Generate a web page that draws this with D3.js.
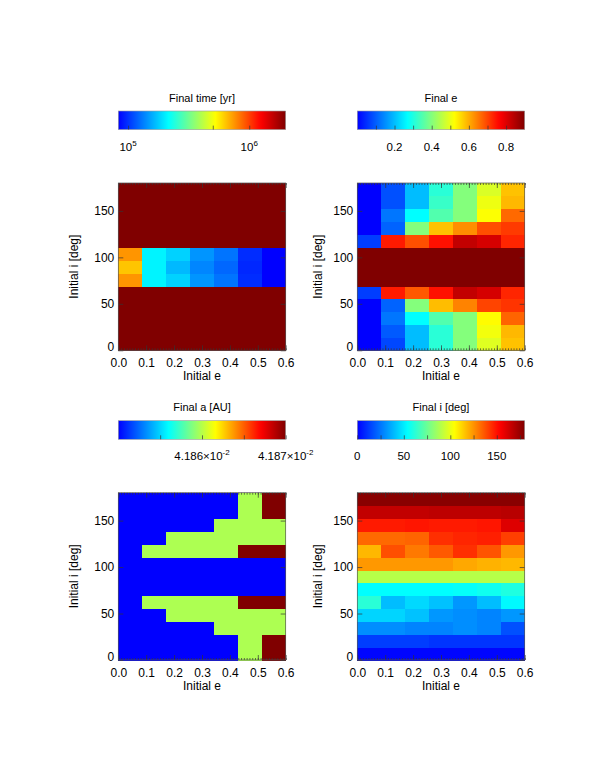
<!DOCTYPE html>
<html>
<head>
<meta charset="utf-8">
<script src="https://d3js.org/d3.v7.min.js"></script>
<style>
body { margin: 0; background: #fff; }
text { font-family: "Liberation Sans", Arial, Helvetica, sans-serif; fill: #000; }
</style>
</head>
<body>
<script>
///////////////////////////////////////////////////////////////////////////////
// Data (grid rows go from initial i = 0 at the bottom up to 180 at the top)

var initialE = [0.0, 0.1, 0.2, 0.3, 0.4, 0.5, 0.6];
var initialI = [0, 15, 30, 45, 60, 75, 90, 105, 120, 135, 150, 165, 180];

var finalTime = [
  [2e6, 2e6, 2e6, 2e6, 2e6, 2e6, 2e6],
  [2e6, 2e6, 2e6, 2e6, 2e6, 2e6, 2e6],
  [2e6, 2e6, 2e6, 2e6, 2e6, 2e6, 2e6],
  [2e6, 2e6, 2e6, 2e6, 2e6, 2e6, 2e6],
  [2e6, 2e6, 2e6, 2e6, 2e6, 2e6, 2e6],
  [7.5e5, 2.07e5, 1.82e5, 1.45e5, 1.28e5, 9.8e4, 8.3e4],
  [6.4e5, 2.07e5, 1.66e5, 1.37e5, 1.22e5, 9.6e4, 8.3e4],
  [7.5e5, 2.07e5, 1.82e5, 1.45e5, 1.28e5, 9.8e4, 8.3e4],
  [2e6, 2e6, 2e6, 2e6, 2e6, 2e6, 2e6],
  [2e6, 2e6, 2e6, 2e6, 2e6, 2e6, 2e6],
  [2e6, 2e6, 2e6, 2e6, 2e6, 2e6, 2e6],
  [2e6, 2e6, 2e6, 2e6, 2e6, 2e6, 2e6],
  [2e6, 2e6, 2e6, 2e6, 2e6, 2e6, 2e6]
];

var finalE = [
  [0.0, 0.075, 0.2, 0.31, 0.4, 0.49, 0.58],
  [0.0, 0.095, 0.2, 0.31, 0.4, 0.51, 0.59],
  [0.0, 0.125, 0.27, 0.35, 0.4, 0.525, 0.67],
  [0.0, 0.105, 0.4, 0.585, 0.64, 0.70, 0.715],
  [0.065, 0.74, 0.68, 0.75, 0.83, 0.81, 0.73],
  [0.9, 0.9, 0.9, 0.9, 0.9, 0.9, 0.9],
  [0.9, 0.9, 0.9, 0.9, 0.9, 0.9, 0.9],
  [0.9, 0.9, 0.9, 0.9, 0.9, 0.9, 0.9],
  [0.065, 0.74, 0.69, 0.75, 0.83, 0.81, 0.73],
  [0.0, 0.105, 0.4, 0.58, 0.63, 0.69, 0.71],
  [0.0, 0.125, 0.27, 0.35, 0.4, 0.52, 0.665],
  [0.0, 0.085, 0.2, 0.325, 0.4, 0.505, 0.59],
  [0.0, 0.085, 0.2, 0.31, 0.4, 0.485, 0.58]
];

var finalA = [
  [0.04185, 0.04185, 0.04185, 0.04185, 0.04185, 0.0418598, 0.04187],
  [0.04185, 0.04185, 0.04185, 0.04185, 0.04185, 0.0418598, 0.04187],
  [0.04185, 0.04185, 0.04185, 0.04185, 0.0418598, 0.0418598, 0.0418598],
  [0.04185, 0.04185, 0.0418598, 0.0418598, 0.0418598, 0.0418598, 0.0418598],
  [0.04185, 0.0418598, 0.0418598, 0.0418598, 0.0418598, 0.04187, 0.04187],
  [0.04185, 0.04185, 0.04185, 0.04185, 0.04185, 0.04185, 0.04185],
  [0.04185, 0.04185, 0.04185, 0.04185, 0.04185, 0.04185, 0.04185],
  [0.04185, 0.04185, 0.04185, 0.04185, 0.04185, 0.04185, 0.04185],
  [0.04185, 0.0418598, 0.0418598, 0.0418598, 0.0418598, 0.04187, 0.04187],
  [0.04185, 0.04185, 0.0418598, 0.0418598, 0.0418598, 0.0418598, 0.0418598],
  [0.04185, 0.04185, 0.04185, 0.04185, 0.0418598, 0.0418598, 0.0418598],
  [0.04185, 0.04185, 0.04185, 0.04185, 0.04185, 0.0418598, 0.04187],
  [0.04185, 0.04185, 0.04185, 0.04185, 0.04185, 0.0418598, 0.04187]
];

var finalI = [
  [1, 1, 1, 1, 1, 1, 1],
  [13, 13, 13, 11, 11, 11, 11],
  [30, 30, 28, 28, 30, 28, 17],
  [45, 45, 41, 32, 30, 28, 32],
  [62, 40, 46, 41, 32, 40, 53],
  [54, 54, 54, 54, 55, 57, 60],
  [90, 90, 90, 90, 90, 90, 90],
  [124, 124, 124, 124, 121, 119, 118],
  [118, 138, 130, 136, 144, 137, 124],
  [133, 133, 134, 144, 146, 147, 141],
  [148, 148, 149, 148, 148, 149, 160],
  [166, 166, 166, 167, 167, 167, 168],
  [178, 178, 178, 178, 178, 178, 178]
];

// axis ticks
var eTicks = [0.0, 0.1, 0.2, 0.3, 0.4, 0.5, 0.6];
var iTicks = [0, 50, 100, 150];

// colorbar ticks ("^" starts a superscript)
var timeTicks = [1e5, 5e5, 1e6];
var timeTickLabels = ["10^5", "", "10^6"];
var eColorTicks = [0.1, 0.2, 0.3, 0.4, 0.5, 0.6, 0.7, 0.8];
var eColorTickLabels = ["", "0.2", "", "0.4", "", "0.6", "", "0.8"];
var aTicks = [0.041855, 0.04186, 0.041865, 0.04187];
var aTickLabels = ["", "4.186\u00d710^-2", "", "4.187\u00d710^-2"];
var iColorTicks = [0, 25, 50, 75, 100, 125, 150, 175];
var iColorTickLabels = ["0", "", "50", "", "100", "", "150", ""];

///////////////////////////////////////////////////////////////////////////////
// Colour table (IDL style blue -> red)

var jet = d3.scaleLinear()
  .domain([0, 0.3, 0.44, 0.58, 0.85, 1])
  .range(["#0000ff", "#00ffff", "#80ff80", "#ffff00", "#ff0000", "#800000"])
  .interpolate(d3.interpolateRgb)
  .clamp(true);

var W = 167.4, H = 167.3, CBH = 18.6;

var panels = [
  {title: "Final time [yr]", values: finalTime,
   scale: d3.scaleLog().domain([8.3e4, 2e6]),
   ticks: timeTicks, labels: timeTickLabels,
   x: 118.3, y: 183, cbY: 111, yLabelX: 78},
  {title: "Final e", values: finalE,
   scale: d3.scaleLinear().domain([0, 0.9]),
   ticks: eColorTicks, labels: eColorTickLabels,
   x: 357.3, y: 183, cbY: 111, yLabelX: 322},
  {title: "Final a [AU]", values: finalA,
   scale: d3.scaleLinear().domain([0.04185, 0.04187]),
   ticks: aTicks, labels: aTickLabels,
   x: 118.3, y: 492.7, cbY: 420.7, yLabelX: 78},
  {title: "Final i [deg]", values: finalI,
   scale: d3.scaleLinear().domain([0, 180]),
   ticks: iColorTicks, labels: iColorTickLabels,
   x: 357.3, y: 492.7, cbY: 420.7, yLabelX: 322}
];

var svg = d3.select("body").append("svg")
  .attr("width", 598)
  .attr("height", 774);

var grad = svg.append("defs").append("linearGradient")
  .attr("id", "jet")
  .attr("x1", "0%").attr("x2", "100%").attr("y1", "0%").attr("y2", "0%");
grad.selectAll("stop")
  .data(d3.range(0, 1.0001, 0.02))
  .enter().append("stop")
  .attr("offset", function (d) { return (d * 100) + "%"; })
  .attr("stop-color", function (d) { return jet(d); });

// write "10^5" style labels with a raised exponent
var superLabel = function (sel, label) {
  var parts = label.split("^");
  sel.append("tspan").text(parts[0]);
  if (parts.length > 1)
    sel.append("tspan")
      .attr("dy", -5)
      .style("font-size", "8px")
      .text(parts[1]);
};

var styleAxis = function (g, size) {
  g.select(".domain").remove();
  g.selectAll("line").attr("stroke", "#333").attr("stroke-width", 0.7);
  g.selectAll("text")
    .style("font-family", '"Liberation Sans", Arial, sans-serif')
    .style("font-size", size + "px");
};

///////////////////////////////////////////////////////////////////////////////
// Panels

var drawPanel = function (p) {
  var norm = p.scale.copy().range([0, 1]).clamp(true);

  // colorbar
  var cb = svg.append("g").attr("transform", "translate(" + p.x + "," + p.cbY + ")");
  cb.append("rect")
    .attr("width", W).attr("height", CBH)
    .attr("fill", "url(#jet)")
    .attr("stroke", "#999").attr("stroke-width", 0.6);
  var cbScale = p.scale.copy().range([0, W]);
  cb.append("g")
    .attr("transform", "translate(0," + CBH + ")")
    .call(d3.axisBottom(cbScale).tickValues(p.ticks).tickSize(-4).tickFormat(""))
    .call(styleAxis, 11);
  cb.selectAll("text.cblabel")
    .data(p.ticks.map(function (t, k) { return {v: t, label: p.labels[k]}; })
      .filter(function (d) { return d.label !== ""; }))
    .enter().append("text")
    .attr("class", "cblabel")
    .attr("x", function (d) { return cbScale(d.v); })
    .attr("y", CBH + 21)
    .attr("text-anchor", "middle")
    .style("font-size", "11.5px")
    .each(function (d) { superLabel(d3.select(this), d.label); });
  cb.append("text")
    .attr("x", W / 2).attr("y", -9.5)
    .attr("text-anchor", "middle")
    .style("font-size", "11px")
    .text(p.title);

  // image cells
  var g = svg.append("g").attr("transform", "translate(" + p.x + "," + p.y + ")");
  var xBand = d3.scaleBand().domain(d3.range(initialE.length)).range([0, W]);
  var yBand = d3.scaleBand().domain(d3.range(initialI.length)).range([H, 0]);
  var cells = [];
  p.values.forEach(function (row, r) {
    row.forEach(function (v, c) { cells.push({r: r, c: c, v: v}); });
  });
  g.selectAll("rect.cell")
    .data(cells)
    .enter().append("rect")
    .attr("class", "cell")
    .attr("x", function (d) { return xBand(d.c); })
    .attr("y", function (d) { return yBand(d.r); })
    .attr("width", xBand.bandwidth() + 0.6)
    .attr("height", yBand.bandwidth() + 0.6)
    .attr("shape-rendering", "crispEdges")
    .attr("fill", function (d) { return jet(norm(d.v)); });

  // axes, ticks pointing inwards on all four sides
  var x = d3.scaleLinear().domain([0, 0.6]).range([0, W]);
  var y = d3.scaleLinear().domain([0, 180]).range([H, 0]);
  var minorE = d3.range(0, 61).map(function (k) { return k / 100; });

  g.append("g").attr("transform", "translate(0," + H + ")")
    .call(d3.axisBottom(x).tickValues(minorE).tickSize(-2).tickFormat(""))
    .call(styleAxis, 12);
  g.append("g")
    .call(d3.axisTop(x).tickValues(minorE).tickSize(-2).tickFormat(""))
    .call(styleAxis, 12);
  g.append("g").attr("transform", "translate(0," + H + ")")
    .call(d3.axisBottom(x).tickValues(eTicks).tickSize(-5).tickPadding(8)
      .tickFormat(d3.format(".1f")))
    .call(styleAxis, 12);
  g.append("g")
    .call(d3.axisTop(x).tickValues(eTicks).tickSize(-5).tickFormat(""))
    .call(styleAxis, 12);
  var yAxis = g.append("g")
    .call(d3.axisLeft(y).tickValues(iTicks).tickSize(-5).tickPadding(4))
    .call(styleAxis, 12);
  // the 0 label sits just above the corner
  yAxis.selectAll(".tick text")
    .filter(function (d) { return d === 0; })
    .attr("y", -3.5);
  g.append("g").attr("transform", "translate(" + W + ",0)")
    .call(d3.axisRight(y).tickValues(iTicks).tickSize(-5).tickFormat(""))
    .call(styleAxis, 12);

  g.append("rect")
    .attr("width", W).attr("height", H)
    .attr("fill", "none")
    .attr("stroke", "#555").attr("stroke-width", 0.7);

  // axis titles
  g.append("text")
    .attr("x", W / 2).attr("y", H + 30)
    .attr("text-anchor", "middle")
    .style("font-size", "12px")
    .text("Initial e");
  svg.append("text")
    .attr("transform", "translate(" + p.yLabelX + "," + (p.y + H / 2) + ") rotate(-90)")
    .attr("text-anchor", "middle")
    .style("font-size", "12px")
    .text("Initial i [deg]");
};

panels.forEach(drawPanel);
</script>
</body>
</html>
